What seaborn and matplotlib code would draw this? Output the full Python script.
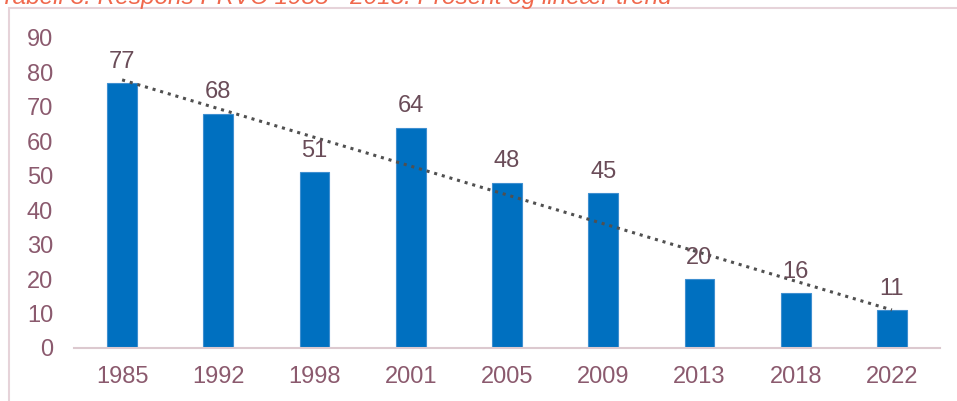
import numpy as np
import pandas as pd
import matplotlib
matplotlib.use('Agg')
import matplotlib.pyplot as plt
import seaborn as sns
from matplotlib.patches import Rectangle

# Data
years = ['1985', '1992', '1998', '2001', '2005', '2009', '2013', '2018', '2022']
response = [77, 68, 51, 64, 48, 45, 20, 16, 11]
title_text = 'Tabell 3. Respons PRVC 1985 - 2018. Prosent og lineær trend'

bar_color = '#0070C0'
tick_color = '#8B5A6E'
label_color = '#6A4C58'
border_color = '#E6D3D9'
fs = 17

sns.set_style('white')
plt.rcParams['font.family'] = ['Liberation Sans', 'DejaVu Sans']

df = pd.DataFrame({'year': years, 'response': response})

fig = plt.figure(figsize=(9.57, 4.01), dpi=100)
ax = fig.add_axes([74 / 957, 1 - 348 / 401, (940 - 74) / 957, (348 - 38) / 401])

sns.barplot(data=df, x='year', y='response', color=bar_color, saturation=1,
            width=0.31, edgecolor='#3F8FD0', linewidth=0.8, ax=ax)

# linear trend over the bar positions
xs = np.arange(len(years))
k, m = np.polyfit(xs, response, 1)
ax.plot(xs, k * xs + m, linestyle=(0, (1, 1.6)), color='#505050', linewidth=2.2)

for i, v in enumerate(response):
    ax.annotate(str(v), (i, v), xytext=(0, 11), textcoords='offset points',
                ha='center', va='baseline', fontsize=fs, color=label_color)

ax.set_ylim(0, 90)
ax.set_xlim(-0.5, len(years) - 0.5)
ax.set_yticks(range(0, 91, 10))
ax.set_xlabel('')
ax.set_ylabel('')
for side in ['top', 'right', 'left']:
    ax.spines[side].set_visible(False)
ax.spines['bottom'].set_color('#DCC9CF')
ax.spines['bottom'].set_linewidth(1.5)
ax.tick_params(axis='both', length=0, labelsize=fs, labelcolor=tick_color)
ax.tick_params(axis='y', pad=15)
ax.tick_params(axis='x', pad=13)

# outer frame of the chart area
fig.patches.append(Rectangle((9 / 957, -0.1), 1.2, 1 - 8 / 401 + 0.1,
                             transform=fig.transFigure, fill=False,
                             edgecolor=border_color, linewidth=1.5))

# caption above the frame, clipped at the top edge as in the source image
fig.text(0.0, 1 - 4 / 401, title_text, ha='left', va='baseline',
         fontsize=17.6, style='italic', color='#F0684D')

fig.savefig('out.png', dpi=100)
